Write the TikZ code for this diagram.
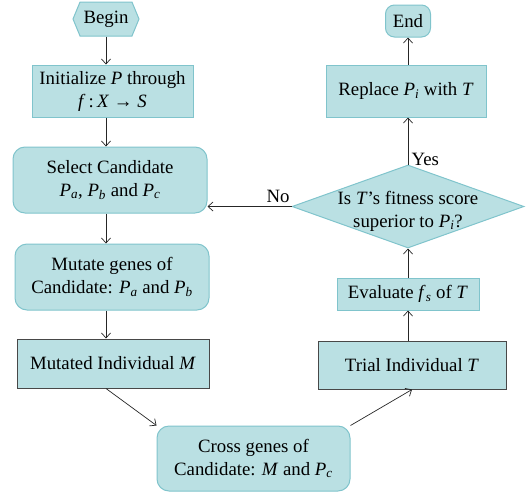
\documentclass[tikz,border=0pt]{standalone}
\usepackage{fontspec}
\setmainfont{Liberation Serif}
\usetikzlibrary{shapes.geometric,shapes.symbols,arrows.meta}
\definecolor{boxfill}{RGB}{186,224,227}
\definecolor{boxline}{RGB}{128,196,204}
\definecolor{darkline}{RGB}{72,72,72}
\newcommand{\mi}[1]{\textit{#1}}
\newcommand{\sub}[2]{\textit{#1}\textsubscript{\textit{#2}}}

\tikzset{
  proc/.style={rectangle, draw=boxline, fill=boxfill, line width=1pt, align=center, inner sep=0pt},
  rproc/.style={proc, rounded corners=12pt},
  dproc/.style={proc, draw=darkline},
  flow/.style={-{Straight Barb[length=5pt,width=9pt]}, line width=0.7pt, draw=black!85},
}

\begin{document}
\begin{tikzpicture}[x=1pt, y=-1pt, font=\fontsize{18.8}{23}\selectfont]
    \useasboundingbox (0,0) rectangle (530,493);

    \node[proc, signal, signal to=west and east, signal pointer angle=135, minimum width=66pt, minimum height=34pt] (begin) at (106,19) {Begin};
    \node[proc, minimum width=161pt, minimum height=52pt] (init) at (112.5,91) {Initialize \mi{P} through\\ \mi{f}\,:\,\mi{X} → \mi{S}};
    \node[rproc, minimum width=194pt, minimum height=66pt] (select) at (110,180) {Select Candidate\\ \sub{P}{a}, \sub{P}{b} and \sub{P}{c}};
    \node[rproc, minimum width=194pt, minimum height=66pt] (mutate) at (112,277) {Mutate genes of\\ Candidate: \sub{P}{a} and \sub{P}{b}};
    \node[dproc, minimum width=192pt, minimum height=49pt] (mutind) at (113,363.5) {Mutated Individual \mi{M}};
    \node[rproc, minimum width=193pt, minimum height=65pt] (cross) at (253.5,458.5) {Cross genes of\\ Candidate: \mi{M} and \sub{P}{c}};
    \node[dproc, minimum width=188pt, minimum height=48pt] (trial) at (412,365) {Trial Individual \mi{T}};
    \node[proc, minimum width=142pt, minimum height=32pt] (eval) at (408,294) {Evaluate \sub{f}{s} of \mi{T}};
    \node[proc, diamond, minimum width=232pt, minimum height=83pt] (check) at (408,206.5) {};
    \node[align=center] (checktext) at (408,211) {Is \mi{T}’s fitness score\\ superior to \sub{P}{i}?};
    \node[proc, minimum width=160pt, minimum height=52pt] (replace) at (406,91) {Replace \sub{P}{i} with \mi{T}};
    \node[rproc, rounded corners=9pt, minimum width=45pt, minimum height=32pt] (end) at (408,21) {End};

    \draw[flow] (begin.south) -- (begin.south |- init.north);
    \draw[flow] (begin.south |- init.south) -- (begin.south |- select.north);
    \draw[flow] (begin.south |- select.south) -- (begin.south |- mutate.north);
    \draw[flow] (begin.south |- mutate.south) -- (begin.south |- mutind.north);
    \draw[flow] (begin.south |- mutind.south) -- (cross.north west);
    \draw[flow] (cross.north east) -- (trial.south);
    \draw[flow] (trial.north -| eval) -- (eval.south);
    \draw[flow] (eval.north) -- (check.south);
    \draw[flow] (check.north) -- node[pos=0.1, right] {Yes} (replace.south -| check.north);
    \draw[flow] (check.west) -- node[pos=0.16, above] {No} (check.west -| select.east);
    \draw[flow] (replace.north -| end) -- (end.south);
\end{tikzpicture}
\end{document}
